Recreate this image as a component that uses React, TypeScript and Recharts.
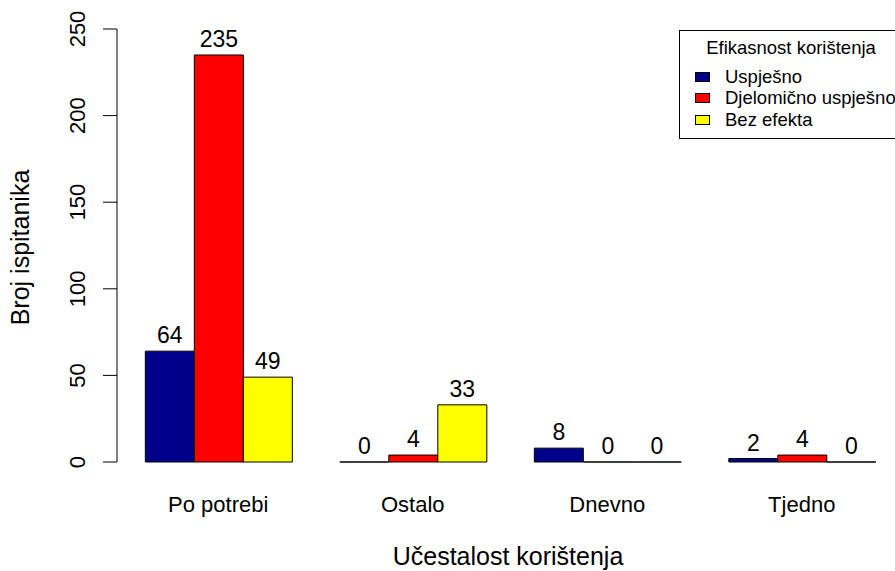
import { BarChart, Bar, XAxis, YAxis, LabelList, Legend } from 'recharts'

const categories = ['Po potrebi', 'Ostalo', 'Dnevno', 'Tjedno']
const uspjesno = [64, 0, 8, 2]
const djelomicno = [235, 4, 0, 4]
const bezEfekta = [49, 33, 0, 0]
const seriesNames = ['Uspješno', 'Djelomično uspješno', 'Bez efekta']
const seriesColors = ['#00008B', '#FF0000', '#FFFF00']
const yTicks = [0, 50, 100, 150, 200, 250]

const FONT = '"Liberation Sans", Arial, sans-serif'

const data = categories.map((c, i) => ({
  cat: c,
  s0: uspjesno[i],
  s1: djelomicno[i],
  s2: bezEfekta[i],
}))

// zero-height bars still show as a flat line, like in R barplot
function BarShape(props: any) {
  const { x, y, width, height, fill } = props
  return <path d={`M${x},${y}h${width}v${height}h${-width}Z`} fill={fill} stroke="#000" strokeWidth={1} />
}

function YTick({ x, y, payload }: any) {
  return (
    <text x={x} y={y} transform={`rotate(-90, ${x}, ${y})`} textAnchor="middle" fontSize={22} fontFamily={FONT} fill="#000">
      {payload.value}
    </text>
  )
}

function XTick({ x, y, payload }: any) {
  return (
    <text x={x} y={y + 16} textAnchor="middle" fontSize={22} fontFamily={FONT} fill="#000">
      {payload.value}
    </text>
  )
}

function LegendBox() {
  return (
    <div style={{ border: '1px solid #000', width: 222, height: 107, boxSizing: 'content-box', fontFamily: FONT, background: '#fff' }}>
      <div style={{ textAlign: 'center', fontSize: 18.5, lineHeight: '22px', marginTop: 6 }}>Efikasnost korištenja</div>
      <div style={{ marginTop: 7 }}>
        {seriesNames.map((n, i) => (
          <div key={n} style={{ display: 'flex', alignItems: 'center', height: 21.5, fontSize: 18.5, whiteSpace: 'nowrap' }}>
            <span style={{ display: 'inline-block', width: 13, height: 8, background: seriesColors[i], border: '1px solid #000', marginLeft: 15, marginRight: 15 }} />
            {n}
          </div>
        ))}
      </div>
    </div>
  )
}

export default function App() {
  return (
    <div style={{ position: 'absolute', left: 0, top: 0, width: 895, height: 571, overflow: 'hidden', background: '#fff' }}>
      <BarChart width={899} height={571} data={data} margin={{ top: 29, right: 0, bottom: 49, left: 0 }} barCategoryGap="12.5%" barGap={0}>
        <XAxis
          dataKey="cat"
          axisLine={false}
          tickLine={false}
          tickSize={0}
          tickMargin={34}
          height={60}
          padding={{ left: 4, right: 0 }}
          tick={<XTick />}
          interval={0}
          label={{
            content: ({ viewBox }: any) => (
              <text x={viewBox.x + viewBox.width / 2} y={viewBox.y + 103} textAnchor="middle" fontSize={25} fontFamily={FONT} fill="#000">
                Učestalost korištenja
              </text>
            ),
          }}
        />
        <YAxis
          width={117}
          domain={[0, 250]}
          ticks={yTicks}
          interval={0}
          axisLine={{ stroke: '#000' }}
          tickLine={{ stroke: '#000' }}
          tickSize={14}
          tickMargin={18}
          tick={<YTick />}
          label={{
            content: ({ viewBox }: any) => {
              const cy = viewBox.y + viewBox.height / 2 + 2
              return (
                <text x={29} y={cy} transform={`rotate(-90, 29, ${cy})`} textAnchor="middle" fontSize={25} fontFamily={FONT} fill="#000">
                  Broj ispitanika
                </text>
              )
            },
          }}
        />
        <Legend
          layout="vertical"
          align="center"
          verticalAlign="middle"
          wrapperStyle={{ position: 'absolute', left: 679, top: 30, width: 'auto', height: 'auto' }}
          content={() => <LegendBox />}
        />
        {['s0', 's1', 's2'].map((k, i) => (
          <Bar key={k} dataKey={k} name={seriesNames[i]} fill={seriesColors[i]} shape={<BarShape />} isAnimationActive={false}>
            <LabelList dataKey={k} position="top" offset={8} style={{ fontSize: 23, fontFamily: FONT, fill: '#000' }} />
          </Bar>
        ))}
      </BarChart>
    </div>
  )
}
